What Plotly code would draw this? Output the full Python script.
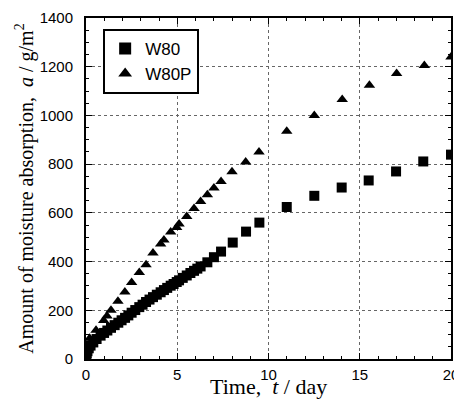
import plotly.graph_objects as go

# W80 (squares)
w80_t = [0, 0.04, 0.08, 0.15, 0.25, 0.4, 0.58, 0.8, 0.99, 1.17, 1.37, 1.57, 1.77, 1.95,
         2.14, 2.32, 2.5, 2.7, 2.92, 3.1, 3.29, 3.48, 3.67, 3.88, 4.09, 4.27, 4.45, 4.64,
         4.8, 4.97, 5.1, 5.3, 5.52, 5.72, 5.92, 6.1, 6.28, 6.65, 7.01, 7.4, 8.04, 8.77,
         9.5, 11.0, 12.51, 14.01, 15.49, 16.99, 18.48, 20.0]
w80_a = [5, 22, 32, 44, 55, 68, 82, 96, 107, 117, 128, 139, 149, 159,
         169, 179, 190, 201, 213, 223, 234, 244, 254, 264, 274, 283, 292, 301,
         308, 316, 323, 333, 343, 353, 362, 371, 380, 397, 418, 441, 478, 523,
         560, 624, 670, 704, 733, 770, 811, 839]

# W80P (triangles)
w80p_t = [0, 0.2, 0.55, 0.97, 1.15, 1.37, 1.75, 2.13, 2.5, 2.92, 3.29, 3.67, 4.09, 4.27,
          4.64, 4.97, 5.1, 5.52, 5.92, 6.28, 6.65, 7.01, 7.4, 8.0, 8.75, 9.48,
          11.0, 12.51, 14.04, 15.53, 17.02, 18.54, 20.0]
w80p_a = [15, 85, 118, 158, 177, 200, 237, 275, 314, 355, 387, 435, 472, 489,
          521, 540, 554, 585, 618, 647, 674, 702, 729, 769, 809, 850,
          935, 1000, 1065, 1124, 1172, 1205, 1240]

SANS = "Liberation Sans, Arial"
SERIF = "Liberation Serif, Times New Roman, serif"

fig = go.Figure()
fig.add_trace(go.Scatter(x=w80_t, y=w80_a, mode="markers", name="W80",
                         marker=dict(symbol="square", size=10, color="black")))
fig.add_trace(go.Scatter(x=w80p_t, y=w80p_a, mode="markers", name="W80P",
                         marker=dict(symbol="triangle-up", size=10, color="black")))

axis_common = dict(
    showline=True, linecolor="black", linewidth=2, mirror="ticks",
    ticks="inside", ticklen=6, tickwidth=1, tickcolor="black",
    showgrid=True, gridcolor="#666", griddash="dot", gridwidth=1,
    zeroline=False, automargin=False,
    tickfont=dict(family=SANS, size=15, color="black"),
)

fig.update_xaxes(range=[0, 20], tick0=0, dtick=5, ticklabelstandoff=1,
                 minor=dict(dtick=1, ticks="inside", ticklen=3, tickcolor="black", showgrid=False),
                 **axis_common)
fig.update_yaxes(range=[0, 1400], tick0=0, dtick=200, ticklabelstandoff=8,
                 minor=dict(dtick=50, ticks="inside", ticklen=3, tickcolor="black", showgrid=False),
                 title=dict(text="Amount of moisture absorption,  <i>a</i> / g/m<sup>2</sup>",
                            font=dict(family=SERIF, size=20, color="black"),
                            standoff=1),
                 **axis_common)

fig.add_annotation(text="Time,  <i>t</i> / day", xref="paper", yref="paper",
                   x=0.5, y=-0.082, xanchor="center", yanchor="middle",
                   showarrow=False,
                   font=dict(family=SERIF, size=22, color="black"))

# page body adds an 8px offset, so the figure is sized/margined to compensate
fig.update_layout(
    width=454, height=397,
    margin=dict(l=78, r=11, t=10, b=46),
    plot_bgcolor="white", paper_bgcolor="white",
    showlegend=True,
    legend=dict(x=0.047, y=0.968, xanchor="left", yanchor="top",
                bgcolor="white", bordercolor="black", borderwidth=2,
                font=dict(family=SANS, size=17, color="black"),
                itemsizing="constant", tracegroupgap=0),
)

fig.write_html("out.html")
